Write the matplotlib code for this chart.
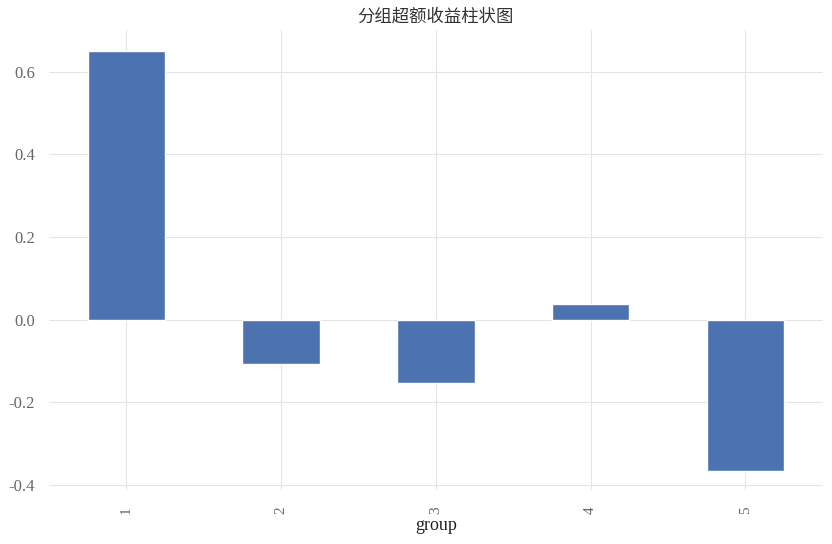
import matplotlib
matplotlib.use("Agg")
import matplotlib.pyplot as plt
import numpy as np

groups = ["1", "2", "3", "4", "5"]
excess_returns = [0.650, -0.107, -0.154, 0.038, -0.367]
title = "分组超额收益柱状图"
xlabel = "group"

plt.rcParams['font.family'] = ['Liberation Serif', 'Noto Sans CJK SC', 'DejaVu Sans']

fig = plt.figure(figsize=(8.32, 5.44), dpi=100)
ax = fig.add_axes([0.0589, 0.099, 0.930, 0.846])
ax.set_facecolor('white')
x = np.arange(len(groups))
ax.bar(x, excess_returns, width=0.5, color='#4C72B0', edgecolor='white', linewidth=1.0, zorder=2)
ax.set_xlim(-0.5, len(groups) - 0.5)
ax.set_ylim(-0.413, 0.701)
ax.set_xticks(x)
ax.set_xticklabels(groups, rotation=90)
ax.set_yticks([-0.4, -0.2, 0.0, 0.2, 0.4, 0.6])
ax.set_yticklabels(['-0.4', '-0.2', '0.0', '0.2', '0.4', '0.6'])
ax.grid(True, color='#e5e5e5', linewidth=0.8, zorder=0)
ax.set_axisbelow(True)
for s in ax.spines.values():
    s.set_visible(False)
ax.tick_params(axis='both', length=0, labelsize=12, labelcolor='#666666')
ax.tick_params(axis='x', labelsize=11, pad=12)
ax.tick_params(axis='y', pad=10)
ax.set_xlabel(xlabel, fontsize=13, color='#222222', labelpad=2)
ax.set_title(title, fontsize=12.5, color='#333333', family=['Noto Sans CJK SC', 'DejaVu Sans'], pad=6)
fig.savefig('out.png', dpi=100)
